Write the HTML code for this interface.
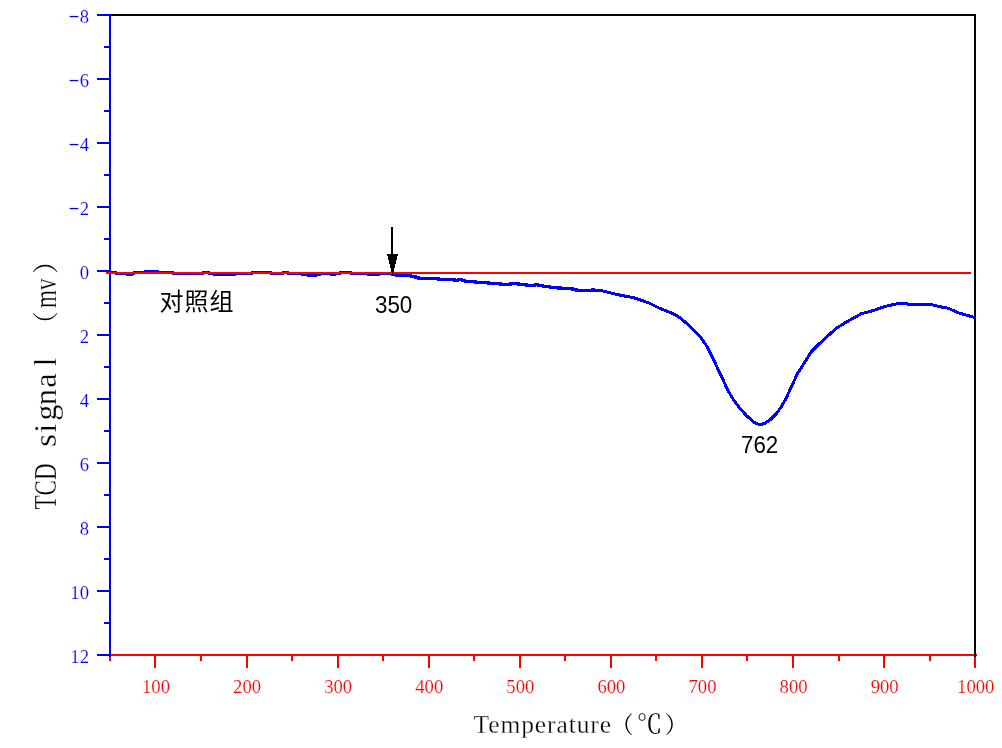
<!DOCTYPE html>
<html lang="zh-CN">
<head>
<meta charset="utf-8">
<title>TCD signal - Temperature</title>
<style>
html,body{margin:0;padding:0;background:#fff;}
body{width:1002px;height:748px;overflow:hidden;font-family:"Liberation Serif","Noto Serif CJK SC",serif;}
svg{display:block;}
</style>
</head>
<body>
<svg width="1002" height="748" viewBox="0 0 1002 748">
<rect width="1002" height="748" fill="#fff"/>
<g shape-rendering="crispEdges">
<rect x="111" y="14" width="865" height="2" fill="#000000"/>
<rect x="109" y="14" width="2" height="643" fill="#0000ff"/>
<rect x="97" y="14" width="13" height="2" fill="#0000ff"/>
<rect x="97" y="78" width="13" height="2" fill="#0000ff"/>
<rect x="97" y="142" width="13" height="2" fill="#0000ff"/>
<rect x="97" y="206" width="13" height="2" fill="#0000ff"/>
<rect x="97" y="270" width="13" height="2" fill="#0000ff"/>
<rect x="97" y="334" width="13" height="2" fill="#0000ff"/>
<rect x="97" y="398" width="13" height="2" fill="#0000ff"/>
<rect x="97" y="462" width="13" height="2" fill="#0000ff"/>
<rect x="97" y="526" width="13" height="2" fill="#0000ff"/>
<rect x="97" y="590" width="13" height="2" fill="#0000ff"/>
<rect x="97" y="654" width="13" height="2" fill="#0000ff"/>
<rect x="104" y="46" width="6" height="2" fill="#0000ff"/>
<rect x="104" y="110" width="6" height="2" fill="#0000ff"/>
<rect x="104" y="174" width="6" height="2" fill="#0000ff"/>
<rect x="104" y="238" width="6" height="2" fill="#0000ff"/>
<rect x="104" y="302" width="6" height="2" fill="#0000ff"/>
<rect x="104" y="366" width="6" height="2" fill="#0000ff"/>
<rect x="104" y="430" width="6" height="2" fill="#0000ff"/>
<rect x="104" y="494" width="6" height="2" fill="#0000ff"/>
<rect x="104" y="558" width="6" height="2" fill="#0000ff"/>
<rect x="104" y="622" width="6" height="2" fill="#0000ff"/>
<rect x="111" y="654" width="866" height="2" fill="#ff0000"/>
<rect x="109" y="656" width="2" height="5" fill="#ff0000"/>
<rect x="154" y="656" width="2" height="12" fill="#ff0000"/>
<rect x="200" y="656" width="2" height="5" fill="#ff0000"/>
<rect x="246" y="656" width="2" height="12" fill="#ff0000"/>
<rect x="291" y="656" width="2" height="5" fill="#ff0000"/>
<rect x="337" y="656" width="2" height="12" fill="#ff0000"/>
<rect x="382" y="656" width="2" height="5" fill="#ff0000"/>
<rect x="428" y="656" width="2" height="12" fill="#ff0000"/>
<rect x="473" y="656" width="2" height="5" fill="#ff0000"/>
<rect x="519" y="656" width="2" height="12" fill="#ff0000"/>
<rect x="564" y="656" width="2" height="5" fill="#ff0000"/>
<rect x="610" y="656" width="2" height="12" fill="#ff0000"/>
<rect x="655" y="656" width="2" height="5" fill="#ff0000"/>
<rect x="701" y="656" width="2" height="12" fill="#ff0000"/>
<rect x="746" y="656" width="2" height="5" fill="#ff0000"/>
<rect x="792" y="656" width="2" height="12" fill="#ff0000"/>
<rect x="838" y="656" width="2" height="5" fill="#ff0000"/>
<rect x="883" y="656" width="2" height="12" fill="#ff0000"/>
<rect x="929" y="656" width="2" height="5" fill="#ff0000"/>
<rect x="974" y="656" width="2" height="12" fill="#ff0000"/>
<rect x="974" y="14" width="2" height="643" fill="#000000"/>
<rect x="109" y="654" width="2" height="3" fill="#0000ff"/>
<polyline points="110,272 116,272 116,273.7 127,273.7 127,274.5 132,274.5 132,273.7 134,273.7 134,272.3 145,272.3 145,271.5 158,271.5 158,272.3 173,272.3 173,273.7 203,273.7 203,272.3 209,272.3 209,273.7 214,273.7 214,274.5 235,274.5 235,273.8 252,273.8 252,272.2 271,272.2 271,273.8 283,273.8 283,272.2 288,272.2 288,273.8 302,273.8 302,274.5 308,274.5 308,275.3 316,275.3 316,274.5 320,274.5 320,273.8 331,273.8 331,274.8 335,274.8 335,273.8 340,273.8 340,272.2 351,272.2 351,273.8 368,273.8 368,274.6 379,274.6 379,273.8 392,273.8 392,274.5 396,274.5 396,275.5 411,275.5 411,276.5 415.5,276.5 415.5,277.5 418.5,277.5 418.5,278.5 430,278.5 438.6,278.5 438.6,279.5 454.4,279.5 454.4,280.5 458,280.5 458,279.5 462,279.5 462,280.5 465,280.5 465,281.5 475.6,281.5 475.6,282.5 488.6,282.5 488.6,283.5 500.5,283.5 500.5,284.5 510.5,284.5 510.5,283.5 518.5,283.5 518.5,284.5 526.5,284.5 526.5,285.5 535,285.5 535,284.5 538,284.5 538,285.5 542.7,285.5 542.7,286.5 550,286.5 550,287.5 558,287.5 558,288.5 559,288.5 559,287.5 561,287.5 561,288.5 572.6,288.5 572.6,289.5 576.5,289.5 576.5,290.5 592,290.5 592,289.5 594,289.5 594,290.5 600.6,290.5 609.5,292.6 620.6,295.3 632.8,297.5 640.2,299.9 648.7,302.9 659.9,308.4 673.9,314 680.5,318.1 689.8,326.1 699.2,335.5 705.7,344.4 711.3,354.7 716.9,366.9 722.5,378.6 728.1,390.8 733.7,400.1 739.3,407.6 746.8,416 753.3,421.7 757.1,423.9 760.8,424.4 764.6,423.5 770.2,419.8 776.7,413.2 781.4,406.7 786.1,398.3 791.7,386.1 797.3,373.9 803.9,363.6 811.4,351.5 819.8,343.3 827.2,336.5 836.2,328.4 846.9,321.7 861.3,313.7 873.9,310.4 884.7,306.5 895.4,304.1 904.4,303.2 908,304.1 929.6,304.1 938.6,306.5 948.4,308.3 958.3,312.8 976,317.8" fill="none" stroke="#0000ff" stroke-width="3" stroke-linejoin="round"/>
<rect x="106" y="272" width="865" height="2" fill="#ff0000"/>
<path fill="#000000" d="M391 227h2v27h5v2h-1v4h-1v4h-1v4h-1v4h-1v4h-1v-4h-1v-4h-1v-4h-1v-4h-1v-4h-1v-2h4z"/>
</g>
<g font-family="'Liberation Serif', 'Noto Serif CJK SC', serif" font-size="19.6" fill="#0000ff" stroke="#fff" stroke-width="0.15" lengthAdjust="spacingAndGlyphs">
<text><tspan x="68.3" y="21.2" textLength="11.5" lengthAdjust="spacingAndGlyphs">-</tspan><tspan x="79.67" y="23" textLength="9.33" lengthAdjust="spacingAndGlyphs">8</tspan></text>
<text><tspan x="68.3" y="85.2" textLength="11.5" lengthAdjust="spacingAndGlyphs">-</tspan><tspan x="79.67" y="87" textLength="9.33" lengthAdjust="spacingAndGlyphs">6</tspan></text>
<text><tspan x="68.3" y="149.2" textLength="11.5" lengthAdjust="spacingAndGlyphs">-</tspan><tspan x="79.67" y="151" textLength="9.33" lengthAdjust="spacingAndGlyphs">4</tspan></text>
<text><tspan x="68.3" y="213.2" textLength="11.5" lengthAdjust="spacingAndGlyphs">-</tspan><tspan x="79.67" y="215" textLength="9.33" lengthAdjust="spacingAndGlyphs">2</tspan></text>
<text x="79.67" y="279" textLength="9.33" lengthAdjust="spacingAndGlyphs">0</text>
<text x="79.67" y="343" textLength="9.33" lengthAdjust="spacingAndGlyphs">2</text>
<text x="79.67" y="407" textLength="9.33" lengthAdjust="spacingAndGlyphs">4</text>
<text x="79.67" y="471" textLength="9.33" lengthAdjust="spacingAndGlyphs">6</text>
<text x="79.67" y="535" textLength="9.33" lengthAdjust="spacingAndGlyphs">8</text>
<text x="70.34" y="599" textLength="18.66" lengthAdjust="spacingAndGlyphs">10</text>
<text x="70.34" y="663" textLength="18.66" lengthAdjust="spacingAndGlyphs">12</text>
</g>
<g font-family="'Liberation Serif', 'Noto Serif CJK SC', serif" font-size="19.6" fill="#ff0000" stroke="#fff" stroke-width="0.15">
<text x="142.04" y="693.4" textLength="27.99" lengthAdjust="spacingAndGlyphs">100</text>
<text x="233.12" y="693.4" textLength="27.99" lengthAdjust="spacingAndGlyphs">200</text>
<text x="324.21" y="693.4" textLength="27.99" lengthAdjust="spacingAndGlyphs">300</text>
<text x="415.29" y="693.4" textLength="27.99" lengthAdjust="spacingAndGlyphs">400</text>
<text x="506.37" y="693.4" textLength="27.99" lengthAdjust="spacingAndGlyphs">500</text>
<text x="597.45" y="693.4" textLength="27.99" lengthAdjust="spacingAndGlyphs">600</text>
<text x="688.52" y="693.4" textLength="27.99" lengthAdjust="spacingAndGlyphs">700</text>
<text x="779.61" y="693.4" textLength="27.99" lengthAdjust="spacingAndGlyphs">800</text>
<text x="870.69" y="693.4" textLength="27.99" lengthAdjust="spacingAndGlyphs">900</text>
<text x="957.10" y="693.4" textLength="37.32" lengthAdjust="spacingAndGlyphs">1000</text>
</g>
<text font-family="'Liberation Serif', 'Noto Serif CJK SC', serif" font-size="25.5" fill="#000" stroke="#fff" stroke-width="0.3" y="732.6"><tspan x="473.5" textLength="137.5" lengthAdjust="spacing">Temperature</tspan><tspan x="610.4" y="732.8" font-size="23" stroke="none">（</tspan><tspan x="636.8" y="732.6" stroke="none">℃</tspan><tspan x="664.8" y="732.8" font-size="23" stroke="none">）</tspan></text>
<g transform="translate(56,0) rotate(-90)" font-family="'Liberation Serif', 'Noto Serif CJK SC', serif" font-size="32.5" fill="#000" stroke="#fff" stroke-width="0.3">
<text y="0"><tspan x="-509.5" textLength="46" lengthAdjust="spacingAndGlyphs">TCD</tspan> <tspan x="-446.8 -432.7 -420.7 -405.3 -387.7 -366.5">signal</tspan> <tspan x="-337.3" y="-1.4" font-size="26" stroke="none">（</tspan><tspan x="-308" y="0" textLength="29.5" lengthAdjust="spacingAndGlyphs">mv</tspan><tspan x="-273.8" y="-1.4" font-size="26" stroke="none">）</tspan></text>
</g>
<text font-family="'Liberation Sans', 'Noto Sans CJK SC', sans-serif" font-size="24" fill="#000" x="159.5 184.5 209.5" y="310.1">对照组</text>
<text font-family="'Liberation Sans', 'Noto Sans CJK SC', sans-serif" font-size="23" fill="#000" x="375" y="313.4" textLength="37.3" lengthAdjust="spacingAndGlyphs">350</text>
<text font-family="'Liberation Sans', 'Noto Sans CJK SC', sans-serif" font-size="23" fill="#000" x="741" y="452.6" textLength="37.3" lengthAdjust="spacingAndGlyphs">762</text>
</svg>
</body>
</html>
